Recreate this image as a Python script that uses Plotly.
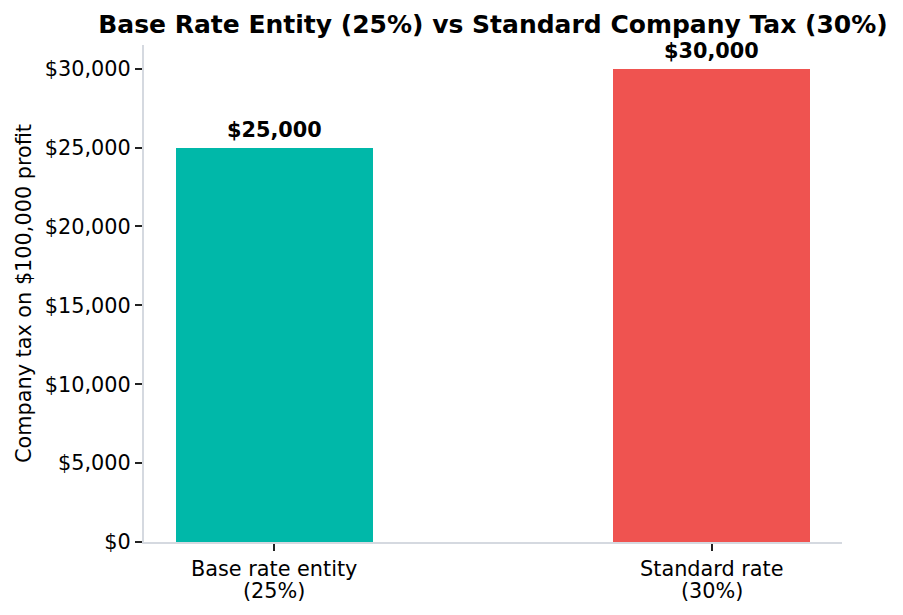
import plotly.graph_objects as go

category_line1 = ["Base rate entity", "Standard rate"]
category_line2 = ["(25%)", "(30%)"]
tax_values = [25000, 30000]
bar_colors = ["#00b8a9", "#ef5350"]
y_ticks = [0, 5000, 10000, 15000, 20000, 25000, 30000]
y_tick_labels = ["$0", "$5,000", "$10,000", "$15,000", "$20,000", "$25,000", "$30,000"]

FONT = "DejaVu Sans"
FS = 20.8
x_pos = list(range(len(category_line1)))

fig = go.Figure()
fig.add_trace(go.Bar(
    x=x_pos,
    y=tax_values,
    width=0.45,
    marker=dict(color=bar_colors, line=dict(width=0)),
    cliponaxis=False,
    hoverinfo="skip",
))

annotations = []
for xi, v in zip(x_pos, tax_values):
    annotations.append(dict(
        x=xi, y=v, xref="x", yref="y",
        text=f"<b>${v:,.0f}</b>", showarrow=False,
        xanchor="center", yanchor="bottom", yshift=4,
        font=dict(family=FONT, size=FS, color="black"),
    ))
for xi, t in zip(x_pos, category_line2):
    annotations.append(dict(
        x=xi, y=0, xref="x", yref="paper",
        text=t, showarrow=False,
        xanchor="center", yanchor="top", yshift=-35,
        font=dict(family=FONT, size=FS, color="black"),
    ))

fig.update_layout(
    width=903, height=615, autosize=False,
    margin=dict(l=144, r=61, t=45, b=73, autoexpand=False),
    paper_bgcolor="white", plot_bgcolor="white",
    font=dict(family=FONT, size=FS, color="black"),
    showlegend=False,
    title=dict(
        text="<b>Base Rate Entity (25%) vs Standard Company Tax (30%)</b>",
        font=dict(family=FONT, size=25, color="black"),
        x=(144 + 842) / 2 / 903, xanchor="center", xref="container",
        y=1 - 15 / 615, yanchor="top", yref="container",
    ),
    annotations=annotations,
    bargap=0,
)

fig.update_xaxes(
    range=[-0.2975, 1.2975],
    tickvals=x_pos, ticktext=category_line1,
    showline=True, linecolor="#d5d9e0", linewidth=2,
    ticks="outside", ticklen=7, tickwidth=2, tickcolor="#222222",
    showgrid=False, zeroline=False, automargin=False,
    tickfont=dict(family=FONT, size=FS, color="black"),
)
fig.update_yaxes(
    range=[0, 31500],
    tickvals=y_ticks, ticktext=y_tick_labels,
    showline=True, linecolor="#d5d9e0", linewidth=2,
    ticks="outside", ticklen=7, tickwidth=2, tickcolor="#222222",
    showgrid=False, zeroline=False, automargin=False,
    tickfont=dict(family=FONT, size=FS, color="black"),
    title=dict(text="Company tax on $100,000 profit", standoff=8,
               font=dict(family=FONT, size=FS, color="black")),
)

fig.write_html("out.html")
